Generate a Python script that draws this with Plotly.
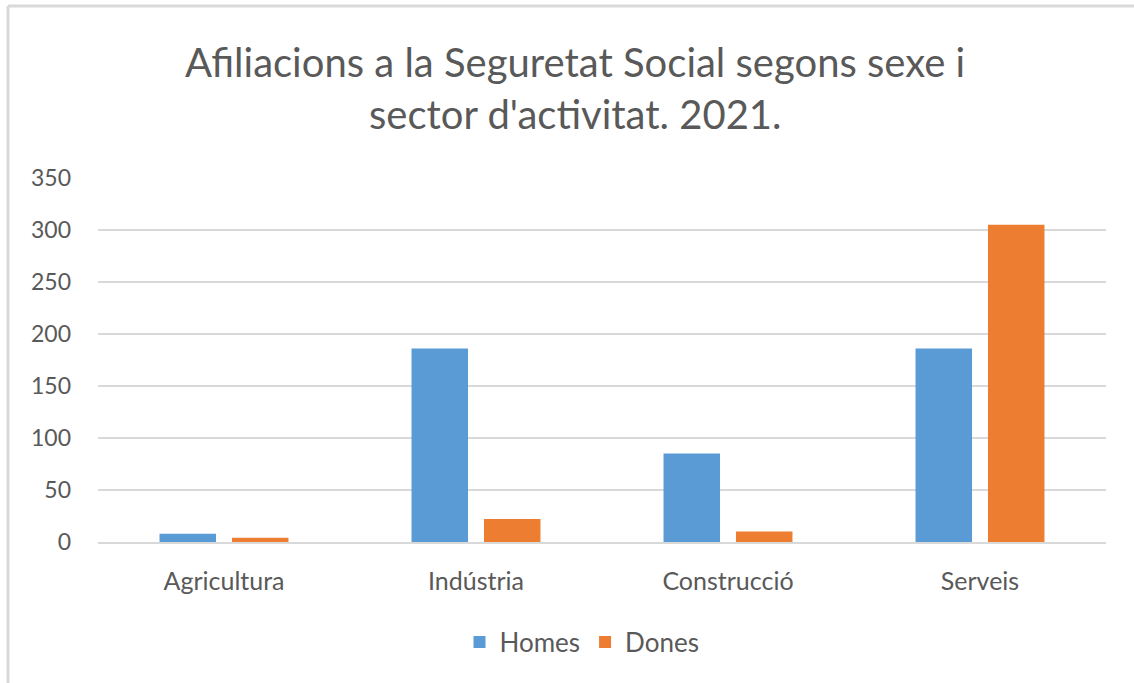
import plotly.graph_objects as go

categories = ["Agricultura", "Indústria", "Construcció", "Serveis"]
homes = [8, 186, 85, 186]
dones = [4, 22, 10, 305]
title_lines = ["Afiliacions a la Seguretat Social segons sexe i", "sector d'activitat. 2021."]
y_ticks = [0, 50, 100, 150, 200, 250, 300, 350]

W, H = 1134, 683
L, R, T, B = 98, 28, 178, 141
FONT = "Lato"
GRAY = "#595959"
GRID = "#d9d9d9"

fig = go.Figure()
fig.add_trace(go.Bar(name="Homes", x=categories, y=homes, marker=dict(color="#5B9BD5", line=dict(width=0))))
fig.add_trace(go.Bar(name="Dones", x=categories, y=dones, marker=dict(color="#ED7D31", line=dict(width=0))))

pw, ph = W - L - R, H - T - B
def px_x(px):
    return (px - L) / pw
def px_y(py):
    return (H - B - py) / ph

shapes = [
    dict(type="line", xref="paper", yref="paper", x0=px_x(8), x1=px_x(1140), y0=px_y(6), y1=px_y(6),
         line=dict(color=GRID, width=3)),
    dict(type="line", xref="paper", yref="paper", x0=px_x(8), x1=px_x(8), y0=px_y(6), y1=px_y(690),
         line=dict(color=GRID, width=3)),
]

annotations = [
    dict(text=title_lines[0], xref="paper", yref="paper", x=px_x(575), y=px_y(62), xanchor="center",
         yanchor="middle", showarrow=False, font=dict(family=FONT, size=40, color=GRAY)),
    dict(text=title_lines[1], xref="paper", yref="paper", x=px_x(575), y=px_y(114), xanchor="center",
         yanchor="middle", showarrow=False, font=dict(family=FONT, size=40, color=GRAY)),
]

fig.update_layout(
    width=W, height=H,
    margin=dict(l=L, r=R, t=T, b=B, autoexpand=False),
    paper_bgcolor="white", plot_bgcolor="white",
    barmode="group", bargap=0.425, bargroupgap=0.22,
    font=dict(family=FONT, size=25, color=GRAY),
    shapes=shapes, annotations=annotations,
    showlegend=True,
    legend=dict(orientation="h", x=px_x(582), y=px_y(642), xanchor="center", yanchor="middle",
                font=dict(family=FONT, size=26, color=GRAY), itemwidth=30, traceorder="normal"),
    xaxis=dict(showgrid=False, showline=True, linecolor=GRID, linewidth=2, ticks="",
               tickfont=dict(family=FONT, size=25, color=GRAY), ticklabelstandoff=16),
    yaxis=dict(range=[0, 350], tickvals=y_ticks, showgrid=True, gridcolor=GRID, gridwidth=2,
               zeroline=False, showline=False, ticks="",
               tickfont=dict(family=FONT, size=23, color=GRAY), ticklabelstandoff=26),
)

fig.write_html("out.html", config={"displayModeBar": False},
               post_script="document.body.style.margin='0';document.body.style.padding='0';")
